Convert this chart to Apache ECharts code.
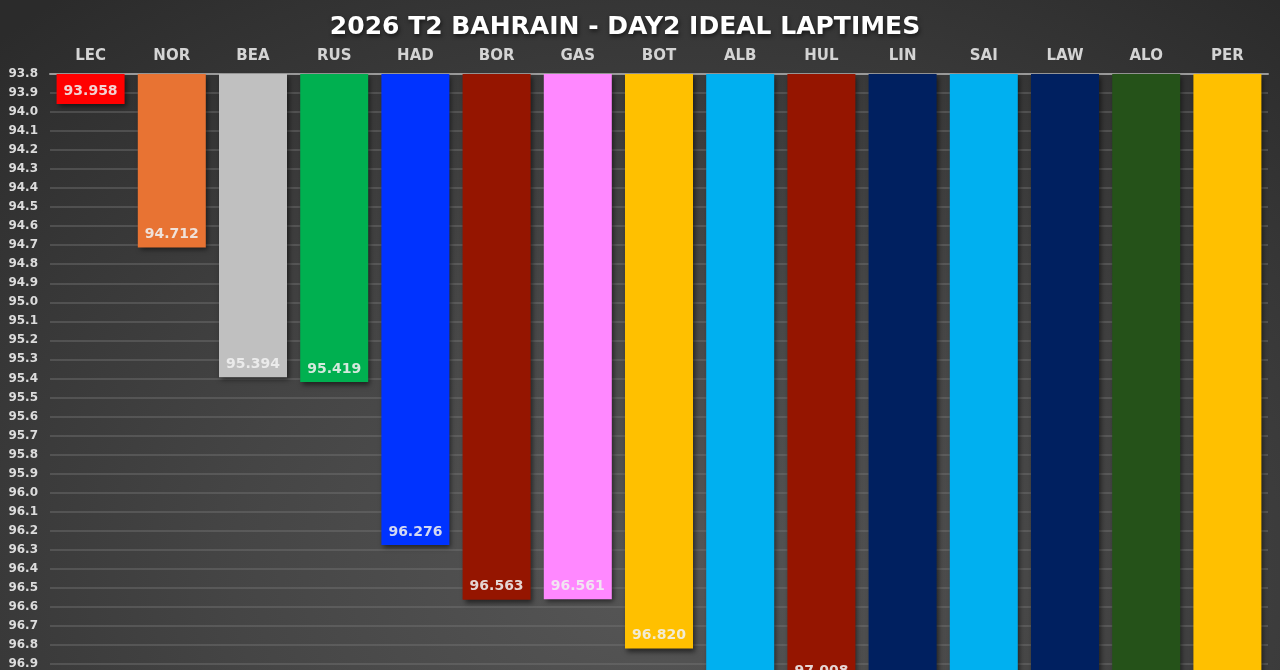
<!DOCTYPE html>
<html lang="en">
<head>
    <meta charset="UTF-8" />
    <title>2026 T2 Bahrain - Day2 Ideal Laptimes</title>
    <script src="https://cdn.jsdelivr.net/npm/echarts@6/dist/echarts.min.js"></script>
    <style>
        html, body { margin: 0; padding: 0; }
        body {
            width: 1280px; height: 670px; overflow: hidden;
            background: radial-gradient(ellipse 75% 110% at 52% 85%, #575757 0%, #454545 45%, #2b2b2b 100%);
        }
        /* taller than the window on purpose: the reference is a crop of a longer chart */
        #chart { width: 1280px; height: 880px; }
    </style>
</head>
<body>
<div id="chart"></div>

<script>
    // drivers, left to right
    const drivers = ['LEC', 'NOR', 'BEA', 'RUS', 'HAD', 'BOR', 'GAS', 'BOT', 'ALB', 'HUL', 'LIN', 'SAI', 'LAW', 'ALO', 'PER'];
    // ideal lap times (s) - bars past 96.9 are cut off at the bottom, so those are estimates
    const laptimes = [93.958, 94.712, 95.394, 95.419, 96.276, 96.563, 96.561, 96.820, 97.120, 97.008, 97.210, 97.330, 97.450, 97.600, 97.850];
    // team colours
    const barColors = ['#ff0000', '#e87333', '#c0c0c0', '#00b050', '#0033ff', '#951500', '#ff88ff', '#ffc000',
                       '#00b0f0', '#951500', '#002060', '#00b0f0', '#002060', '#255219', '#ffc000'];

    const axisMin = 93.8;
    const axisMax = 98.0;
    const tickStep = 0.1;

    const font = 'DejaVu Sans';

    const chart = echarts.init(document.getElementById('chart'), null, { renderer: 'canvas' });

    const option = {
        backgroundColor: 'transparent',
        animation: false,
        title: {
            text: '2026 T2 BAHRAIN - DAY2 IDEAL LAPTIMES',
            left: 620,
            top: 10,
            textAlign: 'center',
            textStyle: {
                color: '#ffffff',
                fontFamily: font,
                fontWeight: 'bold',
                fontSize: 25,
                textShadowColor: 'rgba(0,0,0,0.6)',
                textShadowBlur: 4,
                textShadowOffsetX: 1,
                textShadowOffsetY: 2
            }
        },
        grid: { left: 50, right: 12, top: 74, bottom: 7, outerBoundsMode: 'none' },
        xAxis: {
            type: 'category',
            position: 'top',
            data: drivers,
            axisLine: { show: true, lineStyle: { color: '#9a9a9a', width: 2 } },
            axisTick: { show: false },
            axisLabel: {
                color: '#d4d4d4',
                fontFamily: font,
                fontWeight: 'bold',
                fontSize: 15,
                margin: 10
            }
        },
        yAxis: {
            type: 'value',
            inverse: true,
            min: axisMin,
            max: axisMax,
            interval: tickStep,
            startValue: axisMin,
            axisLine: { show: false },
            axisTick: { show: false },
            splitLine: { lineStyle: { color: 'rgba(120,120,120,0.55)', width: 1.5 } },
            axisLabel: {
                color: '#dcdcdc',
                fontFamily: font,
                fontWeight: 'bold',
                fontSize: 12,
                margin: 12,
                formatter: v => v.toFixed(1)
            }
        },
        series: [{
            type: 'bar',
            barWidth: 68,
            clip: true,
            data: laptimes.map((v, i) => ({
                value: v,
                itemStyle: { color: barColors[i] }
            })),
            itemStyle: {
                shadowColor: 'rgba(0,0,0,0.55)',
                shadowBlur: 5,
                shadowOffsetX: 2,
                shadowOffsetY: 3
            },
            label: {
                show: true,
                position: 'insideBottom',
                distance: 6,
                color: 'rgba(240,240,240,0.88)',
                fontFamily: font,
                fontWeight: 'bold',
                fontSize: 14,
                formatter: p => p.value.toFixed(3)
            }
        }]
    };

    chart.setOption(option);
</script>
</body>
</html>
